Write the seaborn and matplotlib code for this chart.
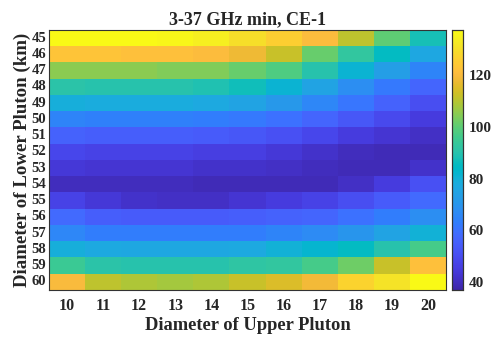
import numpy as np
import pandas as pd
import matplotlib
matplotlib.use("Agg")
import matplotlib.pyplot as plt
from matplotlib.colors import LinearSegmentedColormap
import seaborn as sns

# Axis categories
upper_diam = [10, 11, 12, 13, 14, 15, 16, 17, 18, 19, 20]
lower_diam = [45, 46, 47, 48, 49, 50, 51, 52, 53, 54, 55, 56, 57, 58, 59, 60]

# Minimum brightness temperature, one list per lower-pluton diameter
row_45 = [137, 137, 137, 136, 134, 130, 126, 121, 111, 100, 88]
row_46 = [123, 123, 122, 122, 121, 118, 112, 101, 93, 85, 76]
row_47 = [105, 105, 105, 104, 104, 101, 98, 90, 81, 73, 65]
row_48 = [91, 90, 90, 90, 89, 87, 81, 75, 68, 62, 57]
row_49 = [79, 78, 78, 78, 77, 75, 71, 66, 61, 56, 50]
row_50 = [65, 64, 64, 64, 63, 62, 60, 57, 53, 49, 45]
row_51 = [56, 55, 55, 55, 54, 53, 51, 48, 45, 43, 41]
row_52 = [48, 47, 47, 47, 46, 46, 44, 42, 40, 39, 39]
row_53 = [44, 43, 43, 43, 42, 42, 41, 40, 39, 39, 42]
row_54 = [40, 40, 40, 40, 39, 39, 39, 39, 41, 45, 51]
row_55 = [47, 44, 42, 41, 41, 43, 45, 47, 50, 54, 58]
row_56 = [58, 55, 54, 54, 54, 55, 56, 57, 60, 63, 68]
row_57 = [66, 63, 63, 63, 63, 63, 65, 67, 70, 75, 80]
row_58 = [79, 77, 76, 76, 76, 77, 80, 82, 85, 90, 97]
row_59 = [95, 91, 90, 90, 90, 92, 93, 97, 102, 112, 122]
row_60 = [120, 111, 109, 108, 109, 112, 115, 119, 127, 131, 137]

rows = [row_45, row_46, row_47, row_48, row_49, row_50, row_51, row_52,
        row_53, row_54, row_55, row_56, row_57, row_58, row_59, row_60]
df = pd.DataFrame(rows, index=lower_diam, columns=upper_diam)

# Parula colormap (64 entries)
parula_pts = [
    [0.2422, 0.1504, 0.6603], [0.2504, 0.1650, 0.7076], [0.2578, 0.1818, 0.7511],
    [0.2647, 0.1978, 0.7952], [0.2706, 0.2147, 0.8364], [0.2751, 0.2342, 0.8710],
    [0.2783, 0.2559, 0.8991], [0.2803, 0.2782, 0.9221], [0.2813, 0.3006, 0.9414],
    [0.2810, 0.3228, 0.9579], [0.2795, 0.3447, 0.9717], [0.2760, 0.3667, 0.9829],
    [0.2699, 0.3892, 0.9906], [0.2602, 0.4123, 0.9952], [0.2440, 0.4358, 0.9988],
    [0.2206, 0.4603, 0.9973], [0.1963, 0.4847, 0.9892], [0.1834, 0.5074, 0.9798],
    [0.1786, 0.5289, 0.9682], [0.1764, 0.5499, 0.9520], [0.1687, 0.5703, 0.9359],
    [0.1540, 0.5902, 0.9218], [0.1460, 0.6091, 0.9079], [0.1380, 0.6276, 0.8973],
    [0.1248, 0.6459, 0.8883], [0.1113, 0.6635, 0.8763], [0.0952, 0.6798, 0.8598],
    [0.0689, 0.6948, 0.8394], [0.0297, 0.7082, 0.8163], [0.0036, 0.7203, 0.7917],
    [0.0067, 0.7312, 0.7660], [0.0433, 0.7411, 0.7394], [0.0964, 0.7500, 0.7120],
    [0.1408, 0.7584, 0.6842], [0.1717, 0.7670, 0.6554], [0.1938, 0.7758, 0.6251],
    [0.2161, 0.7843, 0.5923], [0.2470, 0.7918, 0.5567], [0.2906, 0.7973, 0.5188],
    [0.3406, 0.8008, 0.4789], [0.3909, 0.8029, 0.4354], [0.4456, 0.8024, 0.3909],
    [0.5044, 0.7993, 0.3480], [0.5616, 0.7942, 0.3045], [0.6174, 0.7876, 0.2612],
    [0.6720, 0.7793, 0.2227], [0.7242, 0.7698, 0.1910], [0.7738, 0.7598, 0.1646],
    [0.8203, 0.7498, 0.1535], [0.8634, 0.7406, 0.1596], [0.9035, 0.7330, 0.1774],
    [0.9393, 0.7288, 0.2100], [0.9728, 0.7298, 0.2394], [0.9956, 0.7434, 0.2371],
    [0.9970, 0.7659, 0.2199], [0.9952, 0.7893, 0.2028], [0.9892, 0.8136, 0.1885],
    [0.9786, 0.8386, 0.1766], [0.9676, 0.8639, 0.1643], [0.9610, 0.8890, 0.1537],
    [0.9597, 0.9135, 0.1423], [0.9628, 0.9373, 0.1265], [0.9691, 0.9606, 0.1064],
    [0.9769, 0.9839, 0.0805],
]
parula = LinearSegmentedColormap.from_list("parula", parula_pts)

sns.set_style("white")
plt.rcParams["font.family"] = ["Liberation Serif", "DejaVu Serif"]
plt.rcParams["font.weight"] = "bold"

fig = plt.figure(figsize=(4.94, 3.41), dpi=100)
ax = fig.add_axes([0.099, 0.150, 0.804, 0.762])
cax = fig.add_axes([0.915, 0.150, 0.022, 0.762])

sns.heatmap(df, ax=ax, cmap=parula, vmin=37, vmax=137.5, cbar_ax=cax,
            cbar_kws={"ticks": [40, 60, 80, 100, 120]})

ax.set_title("3-37 GHz min, CE-1", fontsize=13, fontweight="bold", pad=4)
ax.set_xlabel("Diameter of Upper Pluton", fontsize=13.3, fontweight="bold", labelpad=2)
ax.set_ylabel("Diameter of Lower Pluton (km)", fontsize=13.6, fontweight="bold", labelpad=0)
ax.set_xticklabels(upper_diam, rotation=0, fontsize=11.5, fontweight="bold")
ax.set_yticklabels(lower_diam, rotation=0, fontsize=10.5, fontweight="bold")
ax.tick_params(direction="in", length=3, width=0.8, top=True, right=True,
               bottom=True, left=True, pad=2, color="#222222")
ax.tick_params(axis="x", pad=6)

for sp in ax.spines.values():
    sp.set_visible(True)
    sp.set_linewidth(0.8)
    sp.set_color("#333333")

cax.tick_params(direction="in", length=3, width=0.8, labelsize=11, pad=4, color="#222222")
for lbl in cax.get_yticklabels():
    lbl.set_fontweight("bold")
for sp in cax.spines.values():
    sp.set_visible(True)
    sp.set_linewidth(0.8)
    sp.set_color("#333333")

fig.savefig("out.png", dpi=100)
